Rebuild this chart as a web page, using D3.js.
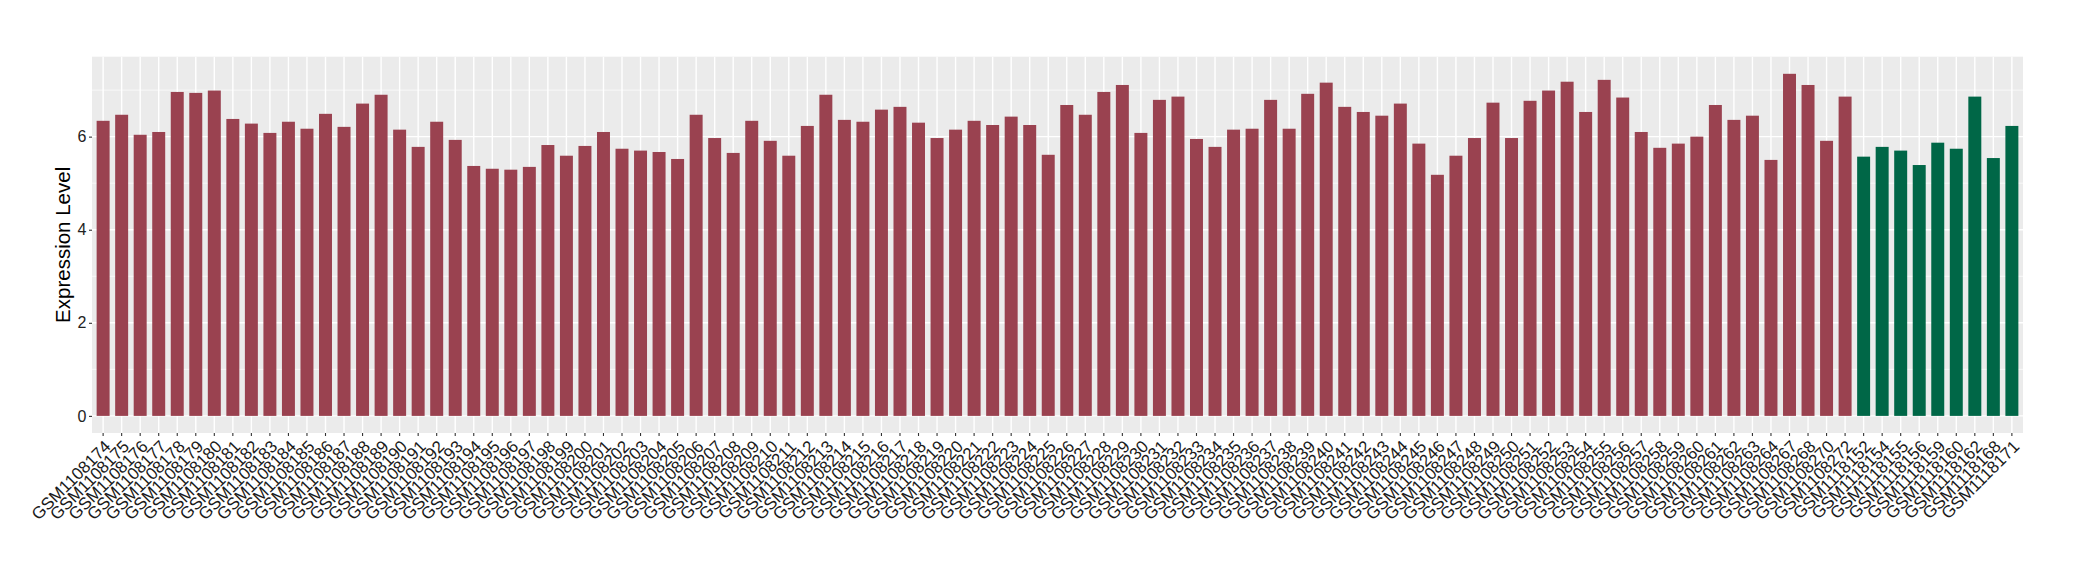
<!DOCTYPE html>
<html>
<head>
<meta charset="utf-8">
<script src="https://cdn.jsdelivr.net/npm/d3@7"></script>
<style>
  html, body { margin: 0; padding: 0; background: #ffffff; }
  svg { display: block; }
  text { font-family: "Liberation Sans", Arial, Helvetica, sans-serif; }
</style>
</head>
<body>
<svg id="chart" width="2080" height="580"></svg>
<script>
// ---- data ----
const groupACategories = [
  "GSM1108174","GSM1108175","GSM1108176","GSM1108177","GSM1108178","GSM1108179","GSM1108180","GSM1108181",
  "GSM1108182","GSM1108183","GSM1108184","GSM1108185","GSM1108186","GSM1108187","GSM1108188","GSM1108189",
  "GSM1108190","GSM1108191","GSM1108192","GSM1108193","GSM1108194","GSM1108195","GSM1108196","GSM1108197",
  "GSM1108198","GSM1108199","GSM1108200","GSM1108201","GSM1108202","GSM1108203","GSM1108204","GSM1108205",
  "GSM1108206","GSM1108207","GSM1108208","GSM1108209","GSM1108210","GSM1108211","GSM1108212","GSM1108213",
  "GSM1108214","GSM1108215","GSM1108216","GSM1108217","GSM1108218","GSM1108219","GSM1108220","GSM1108221",
  "GSM1108222","GSM1108223","GSM1108224","GSM1108225","GSM1108226","GSM1108227","GSM1108228","GSM1108229",
  "GSM1108230","GSM1108231","GSM1108232","GSM1108233","GSM1108234","GSM1108235","GSM1108236","GSM1108237",
  "GSM1108238","GSM1108239","GSM1108240","GSM1108241","GSM1108242","GSM1108243","GSM1108244","GSM1108245",
  "GSM1108246","GSM1108247","GSM1108248","GSM1108249","GSM1108250","GSM1108251","GSM1108252","GSM1108253",
  "GSM1108254","GSM1108255","GSM1108256","GSM1108257","GSM1108258","GSM1108259","GSM1108260","GSM1108261",
  "GSM1108262","GSM1108263","GSM1108264","GSM1108267","GSM1108268","GSM1108270","GSM1108272"
];
const groupAValues = [
  6.34,6.47,6.04,6.10,6.96,6.94,6.99,6.38,
  6.28,6.08,6.32,6.17,6.49,6.21,6.71,6.90,
  6.15,5.78,6.32,5.93,5.37,5.31,5.29,5.35,
  5.82,5.59,5.80,6.10,5.74,5.70,5.67,5.52,
  6.47,5.97,5.65,6.34,5.91,5.59,6.23,6.90,
  6.36,6.32,6.58,6.64,6.30,5.97,6.15,6.34,
  6.25,6.43,6.25,5.61,6.68,6.47,6.96,7.11,
  6.08,6.79,6.86,5.95,5.78,6.15,6.17,6.79,
  6.17,6.92,7.16,6.64,6.53,6.45,6.71,5.85,
  5.18,5.59,5.97,6.73,5.97,6.77,6.99,7.18,
  6.53,7.22,6.84,6.10,5.76,5.85,6.00,6.68,
  6.36,6.45,5.50,7.35,7.11,5.91,6.86
];
const groupBCategories = [
  "GSM1118152","GSM1118154","GSM1118155","GSM1118156","GSM1118159",
  "GSM1118160","GSM1118162","GSM1118168","GSM1118171"
];
const groupBValues = [5.57,5.78,5.70,5.39,5.87,5.74,6.86,5.54,6.23];
const yTickValues = [0, 2, 4, 6];
const yMinorValues = [1, 3, 5, 7];
const yTitle = "Expression Level";
const groupColors = { A: "#9a4250", B: "#006747" };

// ---- build records ----
const records = groupACategories.map((c, i) => ({ cat: c, value: groupAValues[i], group: "A" }))
  .concat(groupBCategories.map((c, i) => ({ cat: c, value: groupBValues[i], group: "B" })));

const svg = d3.select("#chart");
const panel = { left: 92, right: 2023, top: 56.7, bottom: 433 };
const fontStack = '"Liberation Sans", Arial, Helvetica, sans-serif';

const x = d3.scaleBand()
  .domain(records.map(d => d.cat))
  .range([panel.left, panel.right])
  .paddingInner(0.3)
  .paddingOuter(0.25);

const maxV = d3.max(records, d => d.value);
const y = d3.scaleLinear()
  .domain([-0.05 * maxV, 1.05 * maxV])
  .range([panel.bottom, panel.top]);

// panel background
svg.append("rect")
  .attr("x", panel.left).attr("y", panel.top)
  .attr("width", panel.right - panel.left).attr("height", panel.bottom - panel.top)
  .attr("fill", "#ebebeb");

// minor gridlines
svg.append("g").selectAll("line").data(yMinorValues).join("line")
  .attr("x1", panel.left).attr("x2", panel.right)
  .attr("y1", d => y(d)).attr("y2", d => y(d))
  .attr("stroke", "#ffffff").attr("stroke-width", 0.7);

// major gridlines
svg.append("g").selectAll("line").data(yTickValues).join("line")
  .attr("x1", panel.left).attr("x2", panel.right)
  .attr("y1", d => y(d)).attr("y2", d => y(d))
  .attr("stroke", "#ffffff").attr("stroke-width", 1.4);

svg.append("g").selectAll("line").data(records).join("line")
  .attr("x1", d => x(d.cat) + x.bandwidth() / 2).attr("x2", d => x(d.cat) + x.bandwidth() / 2)
  .attr("y1", panel.top).attr("y2", panel.bottom)
  .attr("stroke", "#ffffff").attr("stroke-width", 1.4);

// bars
svg.append("g").selectAll("rect").data(records).join("rect")
  .attr("x", d => x(d.cat))
  .attr("width", x.bandwidth())
  .attr("y", d => y(d.value))
  .attr("height", d => y(0) - y(d.value))
  .attr("fill", d => groupColors[d.group]);

// y axis
const yAxis = d3.axisLeft(y).tickValues(yTickValues).tickSize(3).tickPadding(2.5).tickFormat(d3.format("d"));
const gy = svg.append("g").attr("transform", `translate(${panel.left},0)`).call(yAxis);
gy.select(".domain").remove();
gy.selectAll(".tick line").attr("stroke", "#333333").attr("stroke-width", 1.1);
gy.selectAll(".tick text").attr("fill", "#222222").style("font-size", "16px")
  .style("font-family", fontStack);

// x axis
const xAxis = d3.axisBottom(x).tickSize(3).tickPadding(0);
const gx = svg.append("g").attr("transform", `translate(0,${panel.bottom})`).call(xAxis);
gx.select(".domain").remove();
gx.selectAll(".tick line").attr("stroke", "#333333").attr("stroke-width", 1.1);
gx.selectAll(".tick text")
  .attr("fill", "#1a1a1a")
  .style("font-size", "17px")
  .style("font-family", fontStack)
  .attr("text-anchor", "end")
  .attr("y", 0).attr("dy", "0.72em")
  .attr("transform", "translate(0,6) rotate(-45)");

// y title
svg.append("text")
  .attr("transform", `translate(70,${(panel.top + panel.bottom) / 2}) rotate(-90)`)
  .attr("text-anchor", "middle")
  .attr("fill", "#000000")
  .style("font-size", "20.5px")
  .style("font-family", fontStack)
  .text(yTitle);
</script>
</body>
</html>
